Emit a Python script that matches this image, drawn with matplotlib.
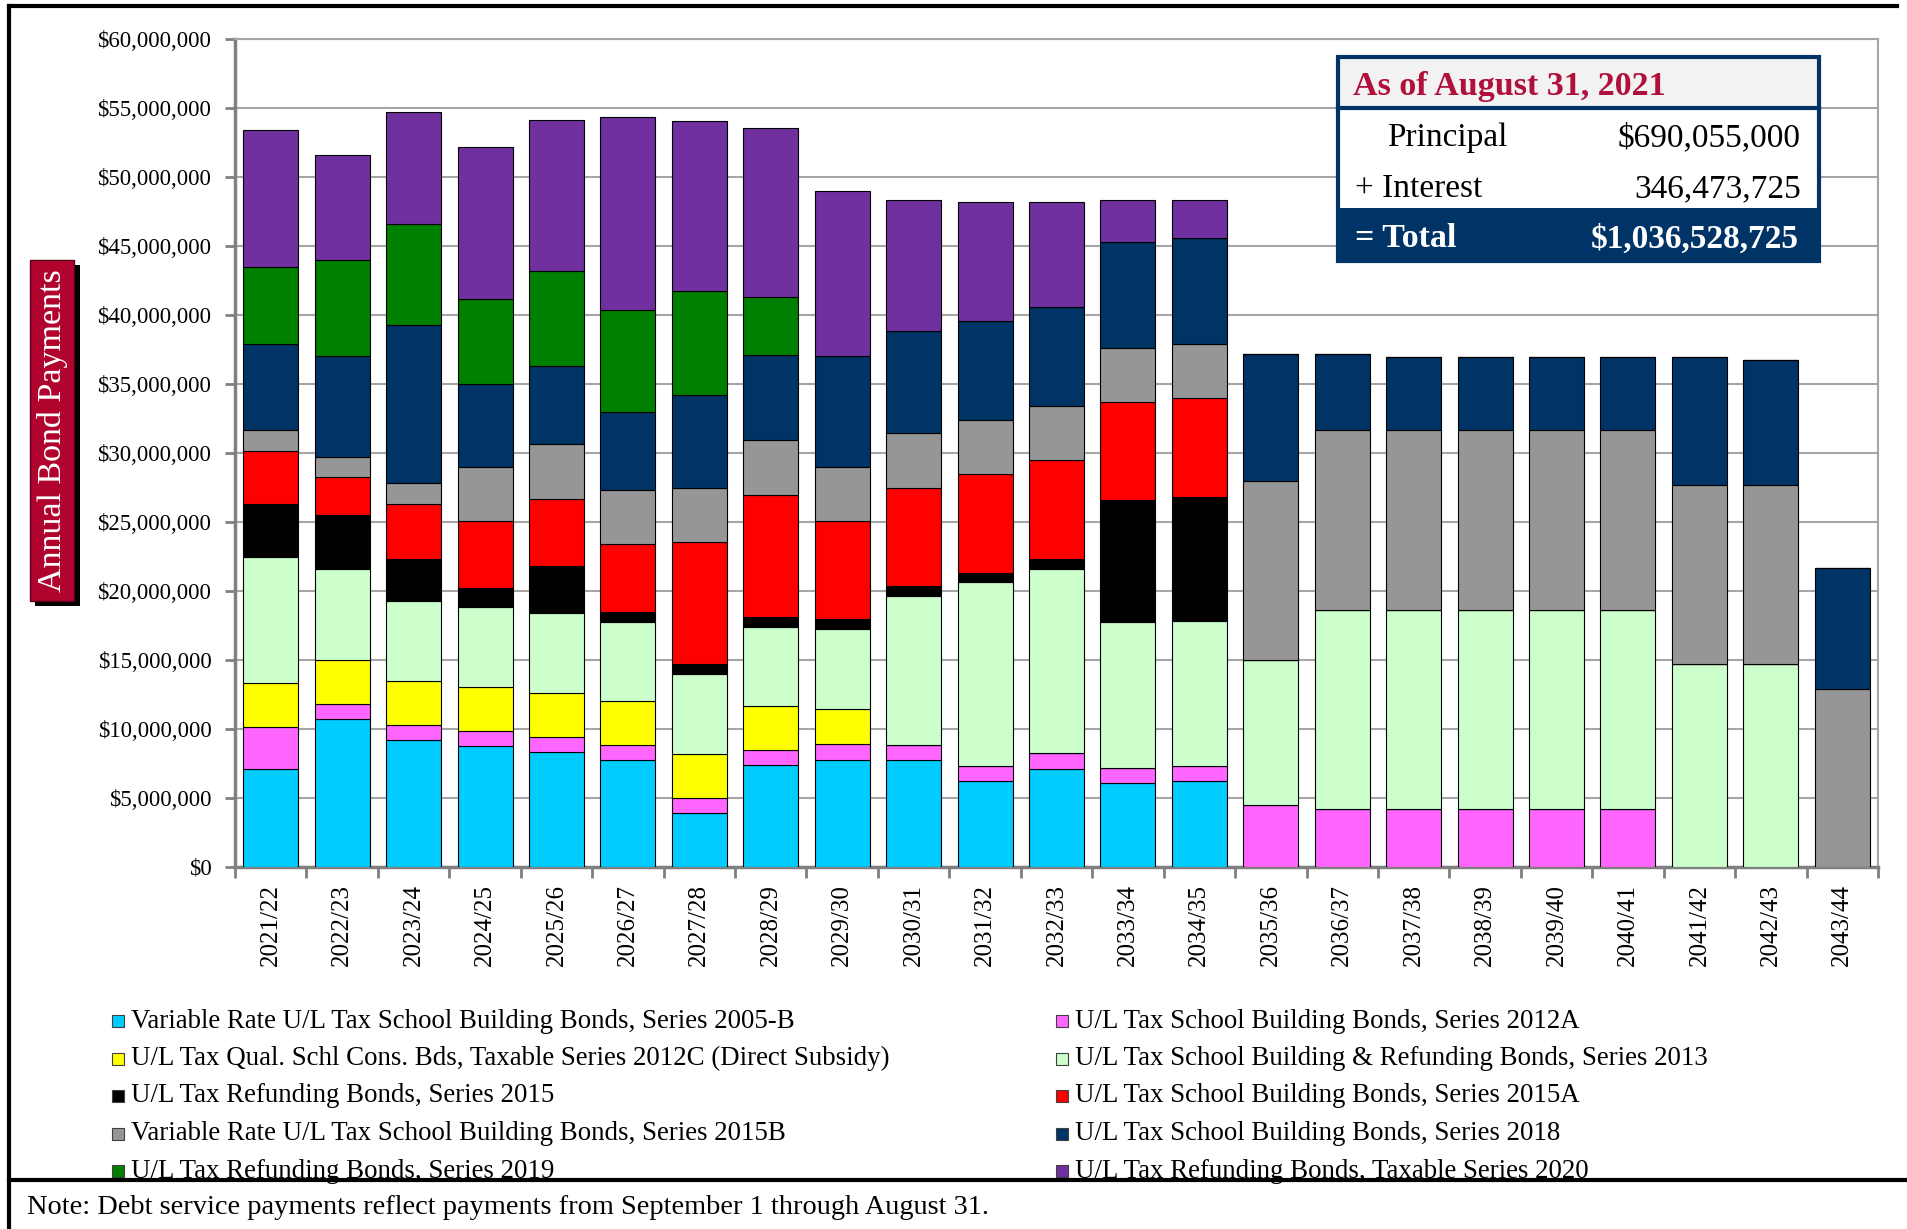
import matplotlib
matplotlib.use('Agg')
import matplotlib.pyplot as plt
import matplotlib.ticker as mtick
from matplotlib.patches import Rectangle
from matplotlib.lines import Line2D
import numpy as np

plt.rcParams['font.family'] = ['Liberation Serif', 'DejaVu Serif']

years = ['2021/22', '2022/23', '2023/24', '2024/25', '2025/26', '2026/27', '2027/28',
         '2028/29', '2029/30', '2030/31', '2031/32', '2032/33', '2033/34', '2034/35',
         '2035/36', '2036/37', '2037/38', '2038/39', '2039/40', '2040/41', '2041/42',
         '2042/43', '2043/44']

# annual payments in $ millions, bottom to top of each stack
s2005b = [7.10, 10.70, 9.20, 8.77, 8.33, 7.73, 3.91, 7.37, 7.78, 7.75, 6.23, 7.13, 6.09, 6.21,
          0, 0, 0, 0, 0, 0, 0, 0, 0]
s2012a = [3.02, 1.09, 1.09, 1.08, 1.09, 1.09, 1.09, 1.08, 1.11, 1.11, 1.09, 1.13, 1.08, 1.08,
          4.50, 4.18, 4.18, 4.18, 4.18, 4.18, 0, 0, 0]
s2012c = [3.21, 3.21, 3.19, 3.22, 3.19, 3.18, 3.19, 3.22, 2.56, 0, 0, 0, 0, 0,
          0, 0, 0, 0, 0, 0, 0, 0, 0]
s2013 = [9.17, 6.57, 5.77, 5.77, 5.80, 5.78, 5.77, 5.75, 5.77, 10.78, 13.31, 13.32, 10.58, 10.51,
         10.47, 14.47, 14.44, 14.44, 14.44, 14.44, 14.69, 14.69, 0]
s2015 = [3.81, 3.91, 3.04, 1.38, 3.40, 0.72, 0.75, 0.72, 0.73, 0.72, 0.70, 0.72, 8.82, 9.03,
         0, 0, 0, 0, 0, 0, 0, 0, 0]
s2015a = [3.84, 2.75, 4.05, 4.83, 4.85, 4.89, 8.85, 8.83, 7.10, 7.13, 7.13, 7.17, 7.11, 7.14,
          0, 0, 0, 0, 0, 0, 0, 0, 0]
s2015b = [1.50, 1.49, 1.46, 3.93, 3.98, 3.90, 3.87, 3.96, 3.90, 3.93, 3.93, 3.92, 3.93, 3.90,
          12.99, 13.02, 13.05, 13.05, 13.05, 13.05, 12.98, 12.98, 12.89]
s2018 = [6.27, 7.34, 11.47, 6.02, 5.65, 5.65, 6.80, 6.16, 8.06, 7.39, 7.17, 7.20, 7.68, 7.71,
         9.21, 5.50, 5.28, 5.28, 5.28, 5.28, 9.28, 9.09, 8.78]
s2019 = [5.54, 6.91, 7.34, 6.19, 6.88, 7.45, 7.48, 4.19, 0, 0, 0, 0, 0, 0,
         0, 0, 0, 0, 0, 0, 0, 0, 0]
s2020 = [9.94, 7.66, 8.11, 10.98, 10.95, 13.96, 12.33, 12.24, 11.95, 9.55, 8.63, 7.60, 3.07, 2.78,
         0, 0, 0, 0, 0, 0, 0, 0, 0]

series = [s2005b, s2012a, s2012c, s2013, s2015, s2015a, s2015b, s2018, s2019, s2020]
names = ['Variable Rate U/L Tax School Building Bonds, Series 2005-B',
         'U/L Tax School Building Bonds, Series 2012A',
         'U/L Tax Qual. Schl Cons. Bds, Taxable Series 2012C (Direct Subsidy)',
         'U/L Tax School Building & Refunding Bonds, Series 2013',
         'U/L Tax Refunding Bonds, Series 2015',
         'U/L Tax School Building Bonds, Series 2015A',
         'Variable Rate U/L Tax School Building Bonds, Series 2015B',
         'U/L Tax School Building Bonds, Series 2018',
         'U/L Tax Refunding Bonds, Series 2019',
         'U/L Tax Refunding Bonds, Taxable Series 2020']
colors = ['#00CCFF', '#FF66FF', '#FFFF00', '#CCFFCC', '#000000', '#FF0000',
          '#969696', '#003366', '#008000', '#7030A0']

W, H = 1908, 1229
fig = plt.figure(figsize=(W / 100, H / 100), dpi=100)


def fx(x):
    return x / W


def fy(y):
    return 1 - y / H


ax = fig.add_axes([fx(235), fy(867), fx(1878) - fx(235), fy(39) - fy(867)])

x = np.arange(len(years))
bottom = np.zeros(len(years))
for vals, col in zip(series, colors):
    v = np.array(vals) * 1e6
    ax.bar(x, v, 0.77, bottom=bottom, color=col, edgecolor='black', linewidth=0.8, zorder=3)
    bottom += v

ax.set_xlim(-0.5, len(years) - 0.5)
ax.set_ylim(0, 60e6)
ax.set_yticks(np.arange(0, 60e6 + 1, 5e6))
ax.yaxis.set_major_formatter(mtick.StrMethodFormatter('${x:,.0f}'))
ax.set_xticks(x)
ax.set_xticklabels(years, rotation=90, fontsize=18)
ax.set_xticks(np.arange(-0.5, len(years), 1), minor=True)
ax.tick_params(axis='x', which='major', length=0, pad=12)
ax.tick_params(axis='x', which='minor', length=8, width=2, color='#808080')
ax.tick_params(axis='y', length=7, width=2, color='#808080', labelsize=16.5, pad=10)
ax.grid(axis='y', color='#A6A6A6', linewidth=1.5, zorder=0)
for side in ['left', 'bottom']:
    ax.spines[side].set_color('#808080')
    ax.spines[side].set_linewidth(2.5)
for side in ['top', 'right']:
    ax.spines[side].set_color('#A6A6A6')
    ax.spines[side].set_linewidth(1.5)

# y label box with shadow
fig.patches.append(Rectangle((fx(35), fy(606)), fx(45), fy(265) - fy(606),
                             transform=fig.transFigure, facecolor='black', edgecolor='none'))
fig.patches.append(Rectangle((fx(30), fy(601)), fx(44), fy(260) - fy(601),
                             transform=fig.transFigure, facecolor='#B0042F', edgecolor='#5a0018',
                             linewidth=1))
fig.text(fx(53), fy(431), 'Annual Bond Payments', rotation=90, ha='center', va='center',
         color='white', fontsize=24.5)

# info box
fig.patches.append(Rectangle((fx(1338), fy(108)), fx(1819) - fx(1338), fy(57) - fy(108),
                             transform=fig.transFigure, facecolor='#F2F2F2', edgecolor='none', zorder=5))
fig.patches.append(Rectangle((fx(1338), fy(208)), fx(1819) - fx(1338), fy(108) - fy(208),
                             transform=fig.transFigure, facecolor='white', edgecolor='none', zorder=5))
fig.patches.append(Rectangle((fx(1338), fy(261)), fx(1819) - fx(1338), fy(208) - fy(261),
                             transform=fig.transFigure, facecolor='#003366', edgecolor='none', zorder=5))
fig.patches.append(Rectangle((fx(1338), fy(261)), fx(1819) - fx(1338), fy(57) - fy(261),
                             transform=fig.transFigure, facecolor='none', edgecolor='#003366',
                             linewidth=3, zorder=6))
fig.lines.append(Line2D([fx(1338), fx(1819)], [fy(108), fy(108)], transform=fig.transFigure,
                        color='#003366', linewidth=3, zorder=6))
fig.text(fx(1353), fy(87), 'As of August 31, 2021', ha='left', va='center', fontsize=24.5,
         fontweight='bold', color='#B0103A', zorder=7)
fig.text(fx(1387), fy(138), 'Principal', ha='left', va='center', fontsize=24, zorder=7)
fig.text(fx(1801), fy(138), '$690,055,000', ha='right', va='center', fontsize=24, zorder=7)
fig.text(fx(1355), fy(189), '+ Interest', ha='left', va='center', fontsize=24, zorder=7)
fig.text(fx(1801), fy(189), '346,473,725', ha='right', va='center', fontsize=24, zorder=7)
fig.text(fx(1355), fy(239), '= Total', ha='left', va='center', fontsize=24.5,
         fontweight='bold', color='white', zorder=7)
fig.text(fx(1799), fy(239), '$1,036,528,725', ha='right', va='center', fontsize=24,
         fontweight='bold', color='white', zorder=7)

# legend, two columns
for i, (nm, col) in enumerate(zip(names, colors)):
    row, c = i // 2, i % 2
    yy = 1021 + row * 37.5
    xs = 112 if c == 0 else 1056
    fig.patches.append(Rectangle((fx(xs), fy(yy + 6)), fx(12), fy(yy - 6) - fy(yy + 6),
                                 transform=fig.transFigure, facecolor=col,
                                 edgecolor='#404040', linewidth=0.8))
    fig.text(fx(xs + 19), fy(yy), nm, ha='left', va='center', fontsize=19.4)

# frame lines
fig.lines.append(Line2D([fx(9), fx(1897)], [fy(6), fy(6)], transform=fig.transFigure,
                        color='black', linewidth=3))
fig.lines.append(Line2D([fx(9), fx(9)], [fy(6), fy(1229)], transform=fig.transFigure,
                        color='black', linewidth=3))
fig.lines.append(Line2D([fx(9), fx(1908)], [fy(1180), fy(1180)], transform=fig.transFigure,
                        color='black', linewidth=3))
fig.text(fx(27), fy(1208), 'Note: Debt service payments reflect payments from September 1 through August 31.',
         ha='left', va='center', fontsize=20.4)

fig.savefig('out.png', dpi=100)
